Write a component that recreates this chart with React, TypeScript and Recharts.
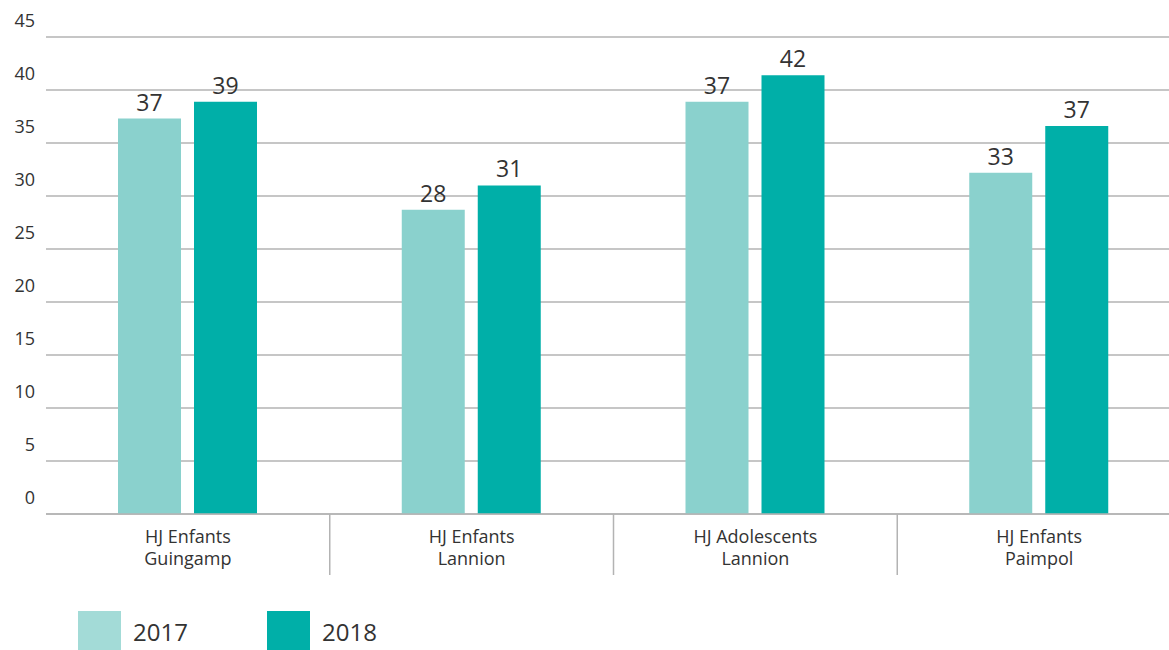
import { BarChart, Bar, XAxis, YAxis, CartesianGrid, LabelList } from 'recharts'

const categories = ['HJ Enfants\nGuingamp', 'HJ Enfants\nLannion', 'HJ Adolescents\nLannion', 'HJ Enfants\nPaimpol']
// bar heights as drawn, and the numbers printed above them
const values2017 = [37.3, 28.7, 38.9, 32.2]
const values2018 = [38.9, 31.0, 41.4, 36.6]
const labels2017 = [37, 28, 37, 33]
const labels2018 = [39, 31, 42, 37]
const yTicks = [0, 5, 10, 15, 20, 25, 30, 35, 40, 45]
const seriesNames = ['2017', '2018']

const FONT = '"Open Sans", sans-serif'
const TEXT = '#333333'
const GRID = '#b3b3b3'

const data = categories.map((name, i) => ({
  name,
  v2017: values2017[i],
  v2018: values2018[i],
  l2017: labels2017[i],
  l2018: labels2018[i],
}))

const YTick = ({ x, y, payload }: any) => (
  <text x={x - 11} y={y - 10} textAnchor="end" fontSize={18} fontFamily={FONT} fill={TEXT}>
    {payload.value}
  </text>
)

const XTick = ({ x, y, payload, index }: any) => {
  const lines = String(payload.value).split('\n')
  const half = payload.offset ?? 141.875
  return (
    <g>
      {lines.map((l, i) => (
        <text key={i} x={x} y={y + 29 + i * 22} textAnchor="middle" fontSize={18} fontFamily={FONT} fill={TEXT}>
          {l}
        </text>
      ))}
      {index < categories.length - 1 && (
        <line x1={x + half} x2={x + half} y1={y} y2={y + 61} stroke={GRID} strokeWidth={1.5} />
      )}
    </g>
  )
}

export default function App() {
  return (
    <div style={{ position: 'absolute', left: 0, top: 0, width: 1169, height: 650, overflow: 'hidden', background: '#fff' }}>
      <BarChart width={1181} height={575} data={data} margin={{ top: 37, right: 0, left: 0, bottom: 0 }} barGap={13} barSize={63}>
        <CartesianGrid vertical={false} stroke={GRID} strokeWidth={1.5} />
        <YAxis
          width={46}
          domain={[0, 45]}
          ticks={yTicks}
          axisLine={false}
          tickLine={false}
          tickSize={0}
          tickMargin={0}
          tick={<YTick />}
        />
        <XAxis
          dataKey="name"
          height={61}
          axisLine={{ stroke: GRID, strokeWidth: 1.5 }}
          tickLine={false}
          tickSize={0}
          tickMargin={0}
          interval={0}
          tick={<XTick />}
        />
        <Bar dataKey="v2017" name={seriesNames[0]} fill="#8ad1cd" isAnimationActive={false}>
          <LabelList dataKey="l2017" position="top" offset={8} fontSize={23} fontFamily={FONT} fill={TEXT} />
        </Bar>
        <Bar dataKey="v2018" name={seriesNames[1]} fill="#00afa8" isAnimationActive={false}>
          <LabelList dataKey="l2018" position="top" offset={8} fontSize={23} fontFamily={FONT} fill={TEXT} />
        </Bar>
      </BarChart>
      <div style={{ position: 'absolute', left: 78, top: 611, display: 'flex', alignItems: 'center', fontFamily: FONT, color: TEXT, fontSize: 24 }}>
        <div style={{ width: 43, height: 40, background: '#a3dbd7' }} />
        <span style={{ marginLeft: 12, width: 134 }}>{seriesNames[0]}</span>
        <div style={{ width: 43, height: 40, background: '#00afa8' }} />
        <span style={{ marginLeft: 12 }}>{seriesNames[1]}</span>
      </div>
    </div>
  )
}
